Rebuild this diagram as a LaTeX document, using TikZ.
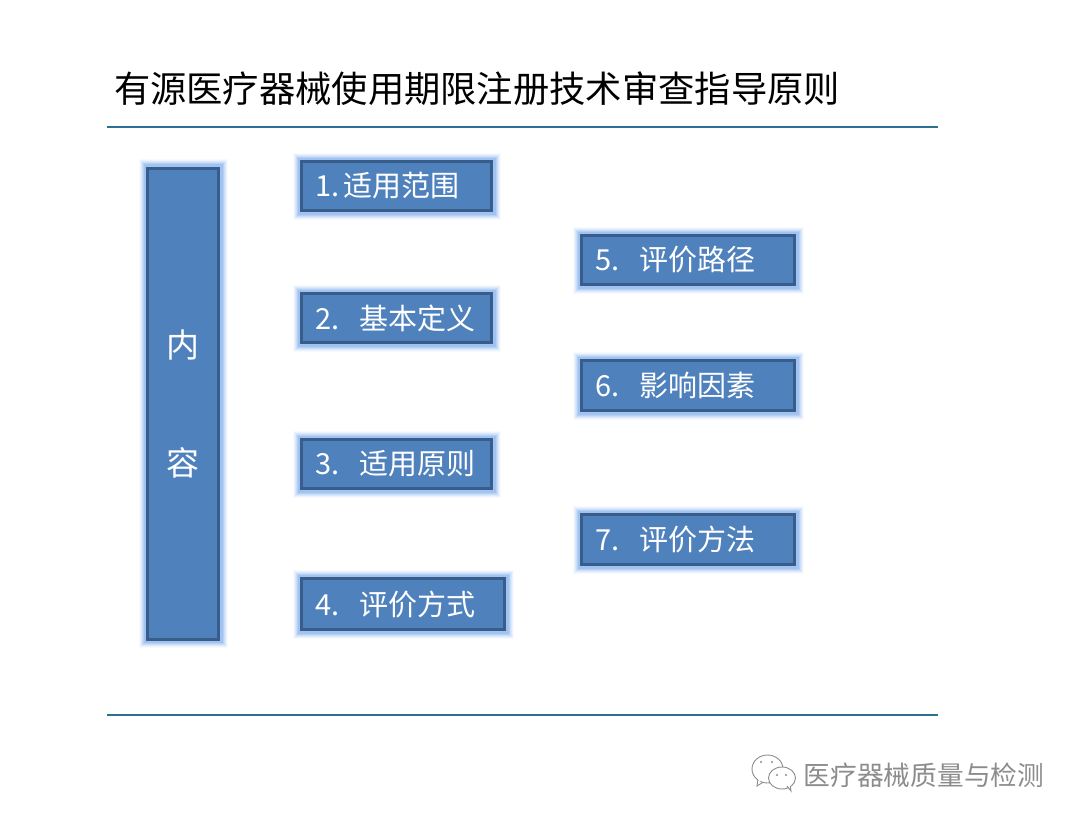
\documentclass[tikz,border=0pt]{standalone}
\usepackage{fontspec}
\setmainfont{Noto Sans CJK SC}
\usetikzlibrary{positioning}
\definecolor{boxfill}{HTML}{4F81BD}
\definecolor{boxedge}{HTML}{385D8A}
\definecolor{boxglow}{HTML}{6FA3EA}
\definecolor{rulecol}{HTML}{2F6F8F}
\definecolor{markcol}{HTML}{8C8C8C}
\newcommand{\numlabel}[3]{\makebox[#1][l]{#2}#3}

\begin{document}
\begin{tikzpicture}[x=1pt,y=-1pt,
  glowed/.style={preaction={draw=boxglow,line width=18pt,opacity=.06},
    preaction={draw=boxglow,line width=16pt,opacity=.08},
    preaction={draw=boxglow,line width=14pt,opacity=.12},
    preaction={draw=boxglow,line width=12pt,opacity=.16},
    preaction={draw=boxglow,line width=10pt,opacity=.22},
    preaction={draw=boxglow,line width=8pt,opacity=.3}},
  itembox/.style={glowed,draw=boxedge,fill=boxfill,line width=3pt,outer sep=0pt,
    text=white,font=\fontsize{29}{29}\selectfont,anchor=north west,align=left,
    minimum height=49pt,inner xsep=14pt,inner ysep=0pt},
  shortbox/.style={itembox,text width=162pt,minimum width=190pt},
  longbox/.style={itembox,text width=185pt,minimum width=213pt,minimum height=50pt},
  sidebox/.style={glowed,draw=boxedge,fill=boxfill,line width=3pt,outer sep=0pt,
    text=white,font=\fontsize{33}{33}\selectfont,align=center,
    minimum width=71pt,minimum height=471pt,inner sep=0pt},
  rulerline/.style={draw=rulecol,line width=2.5pt}]
\useasboundingbox (0,0) rectangle (1080,823);
\node[font=\fontsize{36.3}{36}\selectfont,text=black,inner sep=0pt] (title) at (477,89) {有源医疗器械使用期限注册技术审查指导原则};
\coordinate (topleft) at (107,127);
\coordinate (topright) at (938,127);
\coordinate (lowleft) at (107,715);
\coordinate (lowright) at (938,715);
\draw[rulerline] (topleft) -- (topright);
\draw[rulerline] (lowleft) -- (lowright);
\node[sidebox] (content) at (183,403.5) {内\\[85pt]容};
\node[shortbox] (scope) at (301.5,161.5) {\numlabel{28pt}{1.}{适用范围}};
\node[shortbox,below=83pt of scope.south west,anchor=north west] (define) {\numlabel{44pt}{2.}{基本定义}};
\node[shortbox,below=97pt of define.south west,anchor=north west] (principle) {\numlabel{44pt}{3.}{适用原则}};
\node[itembox,text width=175pt,minimum width=203pt,minimum height=51pt,below=90pt of principle.south west,anchor=north west] (mode) {\numlabel{44pt}{4.}{评价方式}};
\node[longbox,minimum height=49pt] (route) at (581.5,235.5) {\numlabel{44pt}{5.}{评价路径}};
\node[longbox,below=76pt of route.south west,anchor=north west] (factor) {\numlabel{44pt}{6.}{影响因素}};
\node[longbox,below=104pt of factor.south west,anchor=north west] (method) {\numlabel{44pt}{7.}{评价方法}};
\node[font=\fontsize{26.7}{27}\selectfont,text=markcol,inner sep=0pt] (brand) at (924,775) {医疗器械质量与检测};
% wechat mark
\draw[draw=markcol,fill=white,line width=.9pt] (758,779) -- (757,786) -- (765,781);
\draw[draw=markcol,fill=white,line width=.9pt] (767.5,769) circle[x radius=15.5,y radius=14];
\fill[white] (757,776) -- (759,782) -- (766,778) -- cycle;
\draw[draw=markcol,fill=white,line width=.9pt] (782,778) circle[x radius=13.5,y radius=11];
\draw[draw=markcol,fill=white,line width=.9pt] (787,786) -- (791,791) -- (790,784);
\fill[white] (785,785) -- (791,786) -- (790,782) -- cycle;
\fill[markcol] (761,762) circle[radius=1.2] (772,762) circle[radius=1.2] (777,775) circle[radius=1.1] (786,775) circle[radius=1.1];
\end{tikzpicture}
\end{document}
